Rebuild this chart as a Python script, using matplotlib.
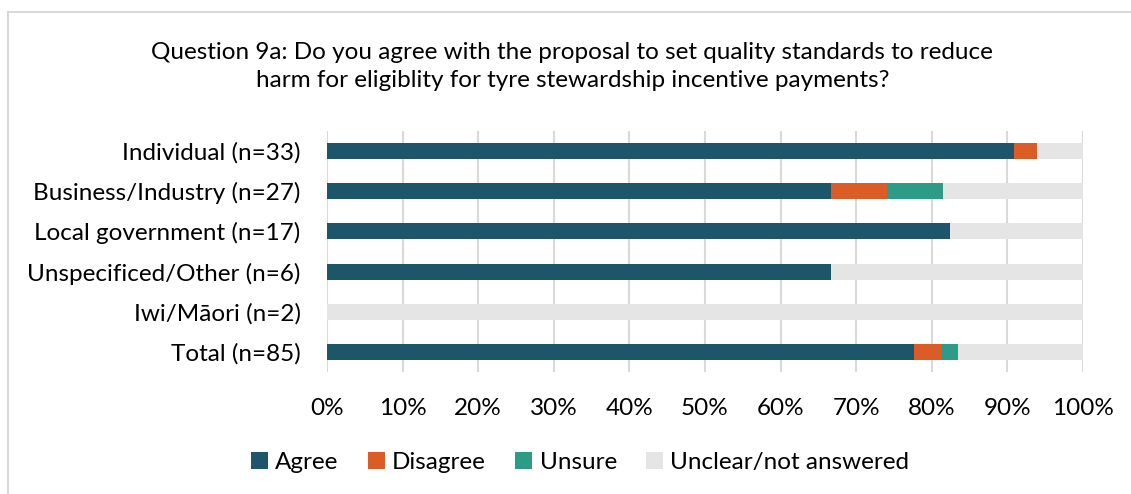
import numpy as np
import matplotlib.pyplot as plt
from matplotlib.patches import Rectangle

plt.rcParams['font.family'] = ['Lato', 'DejaVu Sans']

groups = ["Individual (n=33)", "Business/Industry (n=27)", "Local government (n=17)",
          "Unspecificed/Other (n=6)", "Iwi/Māori (n=2)", "Total (n=85)"]
totals = [33, 27, 17, 6, 2, 85]
agree = [30, 18, 14, 4, 0, 66]
disagree = [1, 2, 0, 0, 0, 3]
unsure = [0, 2, 0, 0, 0, 2]

responses = ["Agree", "Disagree", "Unsure", "Unclear/not answered"]
colours = ["#1d566b", "#dc5c28", "#2c9c87", "#e5e5e5"]

n = np.array(totals, dtype=float)
shares = [np.array(agree) / n, np.array(disagree) / n, np.array(unsure) / n]
shares.append(1 - shares[0] - shares[1] - shares[2])

fig = plt.figure(figsize=(11.31, 4.94), dpi=100)
ax = fig.add_axes([327 / 1131, 1 - 372 / 494, 756 / 1131, 241 / 494])

y = np.arange(len(groups))
left = np.zeros(len(groups))
for s, lab, c in zip(shares, responses, colours):
    ax.barh(y, s, left=left, height=0.4, color=c, label=lab, zorder=3)
    left += s

ax.set_ylim(len(groups) - 0.5, -0.5)
ax.set_xlim(0, 1)
ax.set_xticks(np.linspace(0, 1, 11))
ax.set_xticklabels([f"{int(v)}%" for v in np.linspace(0, 100, 11)])
ax.set_yticks(y)
ax.set_yticklabels(groups)
ax.tick_params(length=0, colors="black")
ax.tick_params(axis="x", pad=19, labelsize=17.5)
ax.tick_params(axis="y", pad=19, labelsize=17.5)
ax.grid(axis="x", color="#d9d9d9", linewidth=1.5, zorder=0)
for sp in ax.spines.values():
    sp.set_visible(False)

fig.text(0.506, 0.865, "Question 9a: Do you agree with the proposal to set quality standards to reduce\n"
         "harm for eligiblity for tyre stewardship incentive payments?",
         ha="center", va="center", fontsize=17.5, linespacing=1.4)

fig.legend(loc="center", bbox_to_anchor=(0.513, 0.063), ncol=4, frameon=False,
           fontsize=17.5, handlelength=0.7, handleheight=0.7, handletextpad=0.3,
           columnspacing=1.2)

fig.patches.append(Rectangle((8 / 1131, -0.1), 1.2, 1 - 12 / 494 + 0.1,
                             transform=fig.transFigure, fill=False,
                             edgecolor="#d9d9d9", linewidth=1.5))

fig.savefig("out.png", dpi=100)
